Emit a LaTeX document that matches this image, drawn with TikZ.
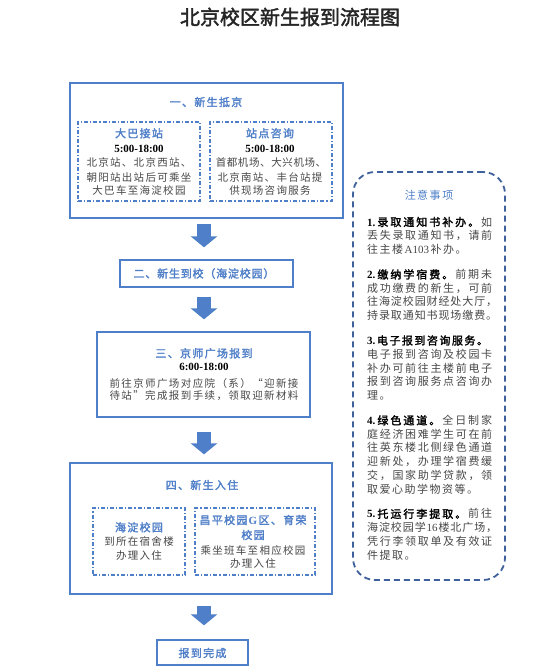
\documentclass[tikz,border=0pt]{standalone}
\usepackage{fontspec}
\setmainfont{Noto Sans CJK SC}[AutoFakeBold=2]
\newfontfamily\lat{Liberation Serif}
\usetikzlibrary{arrows.meta,calc}
\definecolor{bblue}{HTML}{4F7FC8}
\definecolor{nblue}{HTML}{3F619B}
\definecolor{tgray}{HTML}{474747}
\newdimen\notew \notew=125pt
\ExplSyntaxOn
\bool_new:N \g_my_first_bool
\cs_new_protected:Npn \my_item:nn #1 #2
  { \bool_if:NF \g_my_first_bool { #1 } \bool_gset_false:N \g_my_first_bool #2 }
\NewDocumentCommand \ls { O{1.3pt} m }
  {
    \bool_gset_true:N \g_my_first_bool
    \tl_map_inline:nn {#2} { \my_item:nn { \kern #1 \relax } {##1} }
  }
\NewDocumentCommand \jl { O{\notew} m m }
  {
    \hbox_to_wd:nn {#1}
      {
        \bool_gset_true:N \g_my_first_bool
        { \bfseries \color{black} \tl_map_inline:nn {#2} { \my_item:nn { \hfil } {##1} } }
        \tl_map_inline:nn {#3} { \my_item:nn { \hfil } {##1} }
      }
  }
\ExplSyntaxOff
\tikzset{
  bx/.style={draw=bblue, line width=1.3pt, inner sep=0pt},
  ibx/.style={draw=bblue, line width=1.2pt, dash pattern=on 4pt off 2pt on 1.2pt off 2pt, inner sep=0pt},
  notebox/.style={draw=nblue, line width=1.8pt, dash pattern=on 6pt off 4pt, rounded corners=22pt, inner sep=0pt},
  arr/.style={draw=bblue, line width=14pt, -{Triangle[width=26pt,length=11pt]}},
  bt/.style={inner sep=0pt, text=bblue, font=\fontsize{11}{12}\selectfont\bfseries},
  tx/.style={inner sep=0pt, text=tgray, font=\fontsize{10.5}{12}\selectfont},
  tm/.style={inner sep=0pt, text=black, font=\fontsize{11}{12}\selectfont\lat\bfseries},
  nl/.style={anchor=west, inner sep=0pt, text=tgray, font=\fontsize{11}{12}\selectfont},
  ttl/.style={inner sep=0pt, text=black!85, font=\fontsize{20}{22}\selectfont\bfseries},
}
\begin{document}
\begin{tikzpicture}[x=1pt,y=-1pt]
\fill[white] (0,0) rectangle (553,670);
\useasboundingbox (0,0) rectangle (553,670);
\coordinate (cx) at (204,0);
% title
\node[ttl] (title) at (290,17) {北京校区新生报到流程图};
% box 1
\node[bx, minimum width=273pt, minimum height=135pt] (b1) at (206.5,150.5) {};
\node[bt] (t1) at (206,102) {\ls{一、新生抵京}};
\node[ibx, minimum width=122pt, minimum height=79pt] (b1l) at (139,161.5) {};
\node[ibx, minimum width=122pt, minimum height=79pt] (b1r) at (271,161.5) {};
\node[bt] (t1l) at (139,133.3) {\ls{大巴接站}};
\node[tm] (m1l) at (139,149) {5:00-18:00};
\node[tx] (l1a) at (139,162.7) {\ls{北京站、北京西站、}};
\node[tx] (l1b) at (139,177.3) {\ls{朝阳站出站后可乘坐}};
\node[tx] (l1c) at (139,190.7) {\ls{大巴车至海淀校园}};
\node[bt] (t1r) at (270,133.3) {\ls{站点咨询}};
\node[tm] (m1r) at (270,149) {5:00-18:00};
\node[tx] (r1a) at (271,162.7) {\ls[0.6pt]{首都机场、大兴机场、}};
\node[tx] (r1b) at (270,177.3) {\ls{北京南站、丰台站提}};
\node[tx] (r1c) at (270,190.7) {\ls{供现场咨询服务}};
% box 2
\node[bx, minimum width=173pt, minimum height=27pt] (b2) at (206.5,273.5) {};
\node[bt] (t2) at (204,273.5) {\ls[0.8pt]{二、新生到校（海淀校园）}};
% box 3
\node[bx, minimum width=213pt, minimum height=85pt] (b3) at (203.5,374.5) {};
\node[bt] (t3) at (204,353.3) {\ls{三、京师广场报到}};
\node[tm] (m3) at (204,366.7) {6:00-18:00};
\node[tx] (l3a) at (204,383.3) {\ls[1.4pt]{前往京师广场对应院（系）“迎新接}};
\node[tx] (l3b) at (204,395.5) {\ls[1.4pt]{待站”完成报到手续，领取迎新材料}};
% box 4
\node[bx, minimum width=262pt, minimum height=131pt] (b4) at (201,528.5) {};
\node[bt] (t4) at (202,485) {\ls{四、新生入住}};
\node[ibx, minimum width=92pt, minimum height=67pt] (b4l) at (139,541.5) {};
\node[ibx, minimum width=120pt, minimum height=67pt] (b4r) at (255,541.5) {};
\node[bt] (t4l) at (139,527.3) {\ls{海淀校园}};
\node[tx] (l4a) at (139,541.7) {\ls{到所在宿舍楼}};
\node[tx] (l4b) at (139,556) {\ls{办理入住}};
\node[bt] (t4r) at (253,520) {\ls{昌平校园{\mbox{\lat G}}区、育荣}};
\node[bt] (t4r2) at (253,535) {\ls{校园}};
\node[tx] (r4a) at (253,550) {\ls{乘坐班车至相应校园}};
\node[tx] (r4b) at (253,563.3) {\ls{办理入住}};
% box 5
\node[bx, minimum width=91pt, minimum height=25pt] (b5) at (202.5,652.5) {};
\node[bt] (t5) at (202.5,653) {\ls{报到完成}};
% arrows
\draw[arr] ($(b1.south -| cx)+(0,5)$) -- ($(b2.north -| cx)+(0,-12)$);
\draw[arr] ($(b2.south -| cx)+(0,9)$) -- ($(b3.north -| cx)+(0,-12)$);
\draw[arr] ($(b3.south -| cx)+(0,14)$) -- ($(b4.north -| cx)+(0,-8)$);
\draw[arr] ($(b4.south -| cx)+(0,11)$) -- ($(b5.north -| cx)+(0,-14)$);
% notes
\node[notebox, minimum width=152pt, minimum height=408pt] (nb) at (429,376) {};
\node[inner sep=0pt, text=bblue, font=\fontsize{11}{12}\selectfont] (nt) at (429,195) {\ls[1.5pt]{注意事项}};
\node[nl] (n1) at (367,222) {\jl{{\mbox{\lat 1.}}录取通知书补办。}{如}};
\node[nl] (n2) at (367,235.7) {\jl{}{丢失录取通知书，请前}};
\node[nl] (n3) at (367,249.4) {\ls[1.5pt]{往主楼{\mbox{\lat A103}}补办。}};
\node[nl] (n4) at (367,274.4) {\jl{{\mbox{\lat 2.}}缴纳学宿费。}{前期未}};
\node[nl] (n5) at (367,288.1) {\jl{}{成功缴费的新生，可前}};
\node[nl] (n6) at (367,301.8) {\jl[130pt]{}{往海淀校园财经处大厅，}};
\node[nl] (n7) at (367,315.5) {\jl[130pt]{}{持录取通知书现场缴费。}};
\node[nl, text=black] (n8) at (367,340.5) {\bfseries\ls[1.5pt]{{\mbox{\lat 3.}}电子报到咨询服务。}};
\node[nl] (n9) at (367,354.2) {\jl{}{电子报到咨询及校园卡}};
\node[nl] (n10) at (367,367.9) {\jl{}{补办可前往主楼前电子}};
\node[nl] (n11) at (367,381.6) {\jl{}{报到咨询服务点咨询办}};
\node[nl] (n12) at (367,395.3) {\ls[1.5pt]{理。}};
\node[nl] (n13) at (367,420.3) {\jl{{\mbox{\lat 4.}}绿色通道。}{全日制家}};
\node[nl] (n14) at (367,434) {\jl{}{庭经济困难学生可在前}};
\node[nl] (n15) at (367,447.7) {\jl{}{往英东楼北侧绿色通道}};
\node[nl] (n16) at (367,461.4) {\jl{}{迎新处，办理学宿费缓}};
\node[nl] (n17) at (367,475.1) {\jl{}{交，国家助学贷款，领}};
\node[nl] (n18) at (367,488.8) {\ls[1.5pt]{取爱心助学物资等。}};
\node[nl] (n19) at (367,513.8) {\jl{{\mbox{\lat 5.}}托运行李提取。}{前往}};
\node[nl] (n20) at (367,527.5) {\jl[130pt]{}{海淀校园学{\mbox{\lat 16}}楼北广场，}};
\node[nl] (n21) at (367,541.2) {\jl{}{凭行李领取单及有效证}};
\node[nl] (n22) at (367,554.9) {\ls[1.5pt]{件提取。}};
\end{tikzpicture}
\end{document}
